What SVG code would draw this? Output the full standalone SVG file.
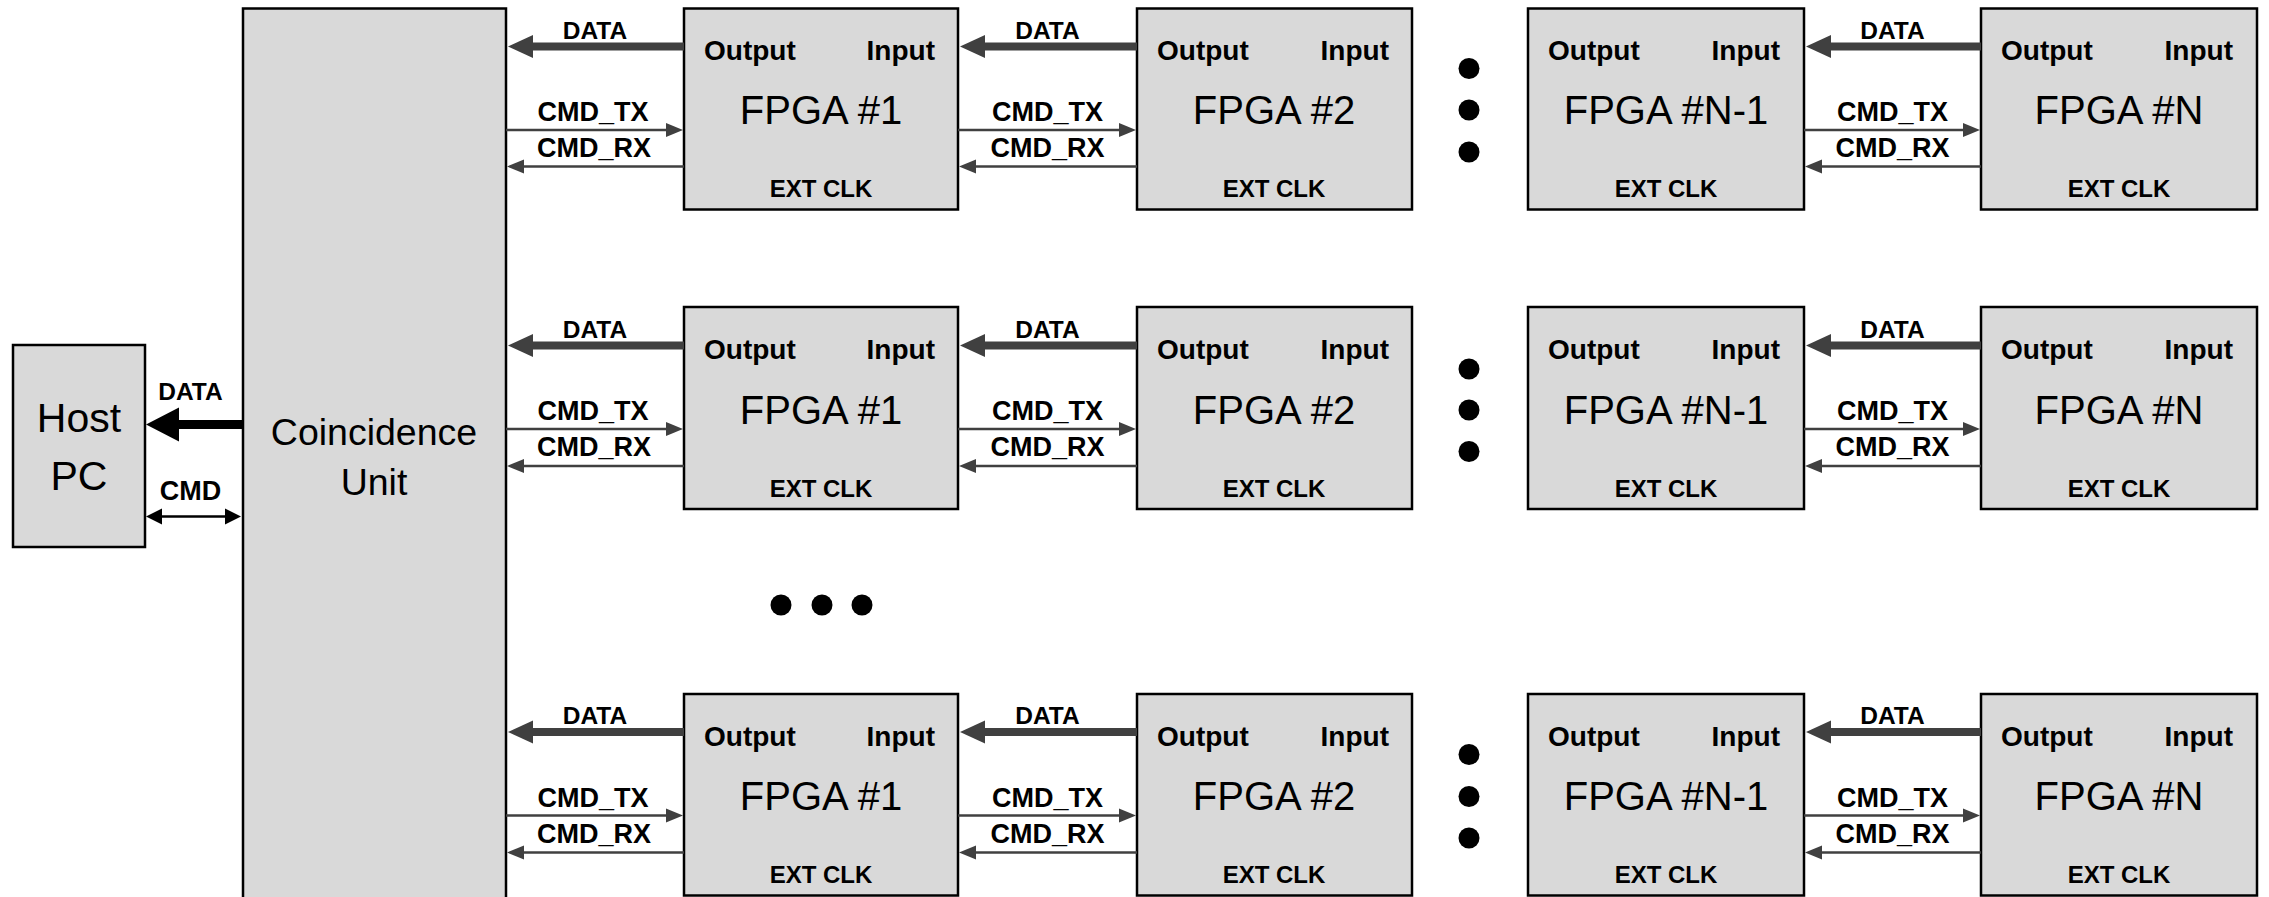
<svg xmlns="http://www.w3.org/2000/svg" width="2269" height="897" viewBox="0 0 2269 897">
  <style>
    .box { fill: #D9D9D9; stroke: #000; stroke-width: 2.5; }
    .t { font-family: "Liberation Sans", Arial, sans-serif; fill: #000; }
    .big { font-size: 40px; text-anchor: middle; }
    .hp { font-size: 41px; text-anchor: middle; }
    .cu { font-size: 37.5px; text-anchor: middle; }
    .io { font-size: 28px; font-weight: bold; }
    .clk { font-size: 24px; font-weight: bold; text-anchor: middle; }
    .dl { font-size: 24.5px; font-weight: bold; text-anchor: middle; }
    .cl { font-size: 27px; font-weight: bold; text-anchor: middle; }
    .data { stroke: #404040; stroke-width: 8; fill: none; marker-end: url(#hData); }
    .cmd { stroke: #404040; stroke-width: 2.7; fill: none; marker-end: url(#hCmd); }
    .dot { fill: #000; }
  </style>
  <defs>
    <marker id="hData" markerUnits="userSpaceOnUse" markerWidth="26" markerHeight="24" refX="1" refY="12" orient="auto" overflow="visible">
      <path d="M0,0.5 L25,12 L0,23.5 z" fill="#404040"/>
    </marker>
    <marker id="hCmd" markerUnits="userSpaceOnUse" markerWidth="18" markerHeight="14" refX="1" refY="7" orient="auto" overflow="visible">
      <path d="M0,0 L17,7 L0,14 z" fill="#404040"/>
    </marker>
    <marker id="hHost" markerUnits="userSpaceOnUse" markerWidth="34" markerHeight="34" refX="1" refY="17" orient="auto" overflow="visible">
      <path d="M0,0 L33,17 L0,34 z" fill="#000"/>
    </marker>
    <marker id="hHostCmd" markerUnits="userSpaceOnUse" markerWidth="17" markerHeight="16" refX="1" refY="8" orient="auto-start-reverse" overflow="visible">
      <path d="M0,0 L16,8 L0,16 z" fill="#000"/>
    </marker>
  </defs>

  <!-- Nodes -->
  <g id="host-pc">
    <rect class="box" x="13" y="345" width="132" height="202"/>
    <text class="t hp" x="79" y="432">Host</text>
    <text class="t hp" x="79" y="490">PC</text>
  </g>
  <g id="coincidence-unit">
    <rect class="box" x="243" y="8.5" width="263" height="900"/>
    <text class="t cu" x="374" y="445">Coincidence</text>
    <text class="t cu" x="374" y="495">Unit</text>
  </g>

  <!-- Row 1 -->
  <g id="r1-fpga1">
    <rect class="box" x="684" y="8.5" width="274" height="201"/>
    <text class="t io" x="704" y="59.5">Output</text>
    <text class="t io" x="935" y="59.5" text-anchor="end">Input</text>
    <text class="t big" x="821" y="124">FPGA #1</text>
    <text class="t clk" x="821" y="197">EXT CLK</text>
  </g>
  <g id="r1-fpga2">
    <rect class="box" x="1137" y="8.5" width="275" height="201"/>
    <text class="t io" x="1157" y="59.5">Output</text>
    <text class="t io" x="1389" y="59.5" text-anchor="end">Input</text>
    <text class="t big" x="1274" y="124">FPGA #2</text>
    <text class="t clk" x="1274" y="197">EXT CLK</text>
  </g>
  <g id="r1-fpgaN-1">
    <rect class="box" x="1528" y="8.5" width="276" height="201"/>
    <text class="t io" x="1548" y="59.5">Output</text>
    <text class="t io" x="1780" y="59.5" text-anchor="end">Input</text>
    <text class="t big" x="1666" y="124">FPGA #N-1</text>
    <text class="t clk" x="1666" y="197">EXT CLK</text>
  </g>
  <g id="r1-fpgaN">
    <rect class="box" x="1981" y="8.5" width="276" height="201"/>
    <text class="t io" x="2001" y="59.5">Output</text>
    <text class="t io" x="2233" y="59.5" text-anchor="end">Input</text>
    <text class="t big" x="2119" y="124">FPGA #N</text>
    <text class="t clk" x="2119" y="197">EXT CLK</text>
  </g>

  <!-- Row 2 -->
  <g id="r2-fpga1">
    <rect class="box" x="684" y="307" width="274" height="202"/>
    <text class="t io" x="704" y="359">Output</text>
    <text class="t io" x="935" y="359" text-anchor="end">Input</text>
    <text class="t big" x="821" y="423.5">FPGA #1</text>
    <text class="t clk" x="821" y="496.5">EXT CLK</text>
  </g>
  <g id="r2-fpga2">
    <rect class="box" x="1137" y="307" width="275" height="202"/>
    <text class="t io" x="1157" y="359">Output</text>
    <text class="t io" x="1389" y="359" text-anchor="end">Input</text>
    <text class="t big" x="1274" y="423.5">FPGA #2</text>
    <text class="t clk" x="1274" y="496.5">EXT CLK</text>
  </g>
  <g id="r2-fpgaN-1">
    <rect class="box" x="1528" y="307" width="276" height="202"/>
    <text class="t io" x="1548" y="359">Output</text>
    <text class="t io" x="1780" y="359" text-anchor="end">Input</text>
    <text class="t big" x="1666" y="423.5">FPGA #N-1</text>
    <text class="t clk" x="1666" y="496.5">EXT CLK</text>
  </g>
  <g id="r2-fpgaN">
    <rect class="box" x="1981" y="307" width="276" height="202"/>
    <text class="t io" x="2001" y="359">Output</text>
    <text class="t io" x="2233" y="359" text-anchor="end">Input</text>
    <text class="t big" x="2119" y="423.5">FPGA #N</text>
    <text class="t clk" x="2119" y="496.5">EXT CLK</text>
  </g>

  <!-- Row 3 -->
  <g id="r3-fpga1">
    <rect class="box" x="684" y="694" width="274" height="201.5"/>
    <text class="t io" x="704" y="745.5">Output</text>
    <text class="t io" x="935" y="745.5" text-anchor="end">Input</text>
    <text class="t big" x="821" y="810">FPGA #1</text>
    <text class="t clk" x="821" y="883">EXT CLK</text>
  </g>
  <g id="r3-fpga2">
    <rect class="box" x="1137" y="694" width="275" height="201.5"/>
    <text class="t io" x="1157" y="745.5">Output</text>
    <text class="t io" x="1389" y="745.5" text-anchor="end">Input</text>
    <text class="t big" x="1274" y="810">FPGA #2</text>
    <text class="t clk" x="1274" y="883">EXT CLK</text>
  </g>
  <g id="r3-fpgaN-1">
    <rect class="box" x="1528" y="694" width="276" height="201.5"/>
    <text class="t io" x="1548" y="745.5">Output</text>
    <text class="t io" x="1780" y="745.5" text-anchor="end">Input</text>
    <text class="t big" x="1666" y="810">FPGA #N-1</text>
    <text class="t clk" x="1666" y="883">EXT CLK</text>
  </g>
  <g id="r3-fpgaN">
    <rect class="box" x="1981" y="694" width="276" height="201.5"/>
    <text class="t io" x="2001" y="745.5">Output</text>
    <text class="t io" x="2233" y="745.5" text-anchor="end">Input</text>
    <text class="t big" x="2119" y="810">FPGA #N</text>
    <text class="t clk" x="2119" y="883">EXT CLK</text>
  </g>

  <!-- Ellipsis dots -->
  <g id="ellipsis">
    <circle class="dot" cx="1469" cy="68.5" r="10.5"/>
    <circle class="dot" cx="1469" cy="110" r="10.5"/>
    <circle class="dot" cx="1469" cy="152" r="10.5"/>
    <circle class="dot" cx="1469" cy="369" r="10.5"/>
    <circle class="dot" cx="1469" cy="410" r="10.5"/>
    <circle class="dot" cx="1469" cy="451.5" r="10.5"/>
    <circle class="dot" cx="1469" cy="754.5" r="10.5"/>
    <circle class="dot" cx="1469" cy="796.5" r="10.5"/>
    <circle class="dot" cx="1469" cy="838" r="10.5"/>
    <circle class="dot" cx="781" cy="605" r="10.5"/>
    <circle class="dot" cx="822" cy="605" r="10.5"/>
    <circle class="dot" cx="862" cy="605" r="10.5"/>
  </g>

  <!-- Connectors -->
  <g id="connectors">
    <!-- Host <-> Coincidence -->
    <line x1="243" y1="424.5" x2="178" y2="424.5" stroke="#000" stroke-width="9" marker-end="url(#hHost)"/>
    <line x1="161" y1="516.5" x2="226" y2="516.5" stroke="#000" stroke-width="2.7" marker-start="url(#hHostCmd)" marker-end="url(#hHostCmd)"/>

    <!-- Row 1 -->
    <line class="data" x1="684" y1="46.5" x2="532" y2="46.5"/>
    <line class="data" x1="1137" y1="46.5" x2="984" y2="46.5"/>
    <line class="data" x1="1981" y1="46.5" x2="1830" y2="46.5"/>
    <line class="cmd" x1="506" y1="130" x2="667" y2="130"/>
    <line class="cmd" x1="958" y1="130" x2="1120" y2="130"/>
    <line class="cmd" x1="1804" y1="130" x2="1964" y2="130"/>
    <line class="cmd" x1="684" y1="166.5" x2="523" y2="166.5"/>
    <line class="cmd" x1="1137" y1="166.5" x2="975" y2="166.5"/>
    <line class="cmd" x1="1981" y1="166.5" x2="1821" y2="166.5"/>

    <!-- Row 2 -->
    <line class="data" x1="684" y1="345.5" x2="532" y2="345.5"/>
    <line class="data" x1="1137" y1="345.5" x2="984" y2="345.5"/>
    <line class="data" x1="1981" y1="345.5" x2="1830" y2="345.5"/>
    <line class="cmd" x1="506" y1="429" x2="667" y2="429"/>
    <line class="cmd" x1="958" y1="429" x2="1120" y2="429"/>
    <line class="cmd" x1="1804" y1="429" x2="1964" y2="429"/>
    <line class="cmd" x1="684" y1="466" x2="523" y2="466"/>
    <line class="cmd" x1="1137" y1="466" x2="975" y2="466"/>
    <line class="cmd" x1="1981" y1="466" x2="1821" y2="466"/>

    <!-- Row 3 -->
    <line class="data" x1="684" y1="732" x2="532" y2="732"/>
    <line class="data" x1="1137" y1="732" x2="984" y2="732"/>
    <line class="data" x1="1981" y1="732" x2="1830" y2="732"/>
    <line class="cmd" x1="506" y1="815.5" x2="667" y2="815.5"/>
    <line class="cmd" x1="958" y1="815.5" x2="1120" y2="815.5"/>
    <line class="cmd" x1="1804" y1="815.5" x2="1964" y2="815.5"/>
    <line class="cmd" x1="684" y1="852.5" x2="523" y2="852.5"/>
    <line class="cmd" x1="1137" y1="852.5" x2="975" y2="852.5"/>
    <line class="cmd" x1="1981" y1="852.5" x2="1821" y2="852.5"/>

    <!-- Labels -->
    <text class="t dl" x="190.5" y="400">DATA</text>
    <text class="t cl" x="190.5" y="500">CMD</text>

    <text class="t dl" x="595" y="38.5">DATA</text>
    <text class="t dl" x="1047.5" y="38.5">DATA</text>
    <text class="t dl" x="1892.5" y="38.5">DATA</text>
    <text class="t cl" x="593" y="121">CMD_TX</text>
    <text class="t cl" x="1047.5" y="121">CMD_TX</text>
    <text class="t cl" x="1892.5" y="121">CMD_TX</text>
    <text class="t cl" x="594" y="157">CMD_RX</text>
    <text class="t cl" x="1047.5" y="157">CMD_RX</text>
    <text class="t cl" x="1892.5" y="157">CMD_RX</text>

    <text class="t dl" x="595" y="337.5">DATA</text>
    <text class="t dl" x="1047.5" y="337.5">DATA</text>
    <text class="t dl" x="1892.5" y="337.5">DATA</text>
    <text class="t cl" x="593" y="420">CMD_TX</text>
    <text class="t cl" x="1047.5" y="420">CMD_TX</text>
    <text class="t cl" x="1892.5" y="420">CMD_TX</text>
    <text class="t cl" x="594" y="456">CMD_RX</text>
    <text class="t cl" x="1047.5" y="456">CMD_RX</text>
    <text class="t cl" x="1892.5" y="456">CMD_RX</text>

    <text class="t dl" x="595" y="724">DATA</text>
    <text class="t dl" x="1047.5" y="724">DATA</text>
    <text class="t dl" x="1892.5" y="724">DATA</text>
    <text class="t cl" x="593" y="806.5">CMD_TX</text>
    <text class="t cl" x="1047.5" y="806.5">CMD_TX</text>
    <text class="t cl" x="1892.5" y="806.5">CMD_TX</text>
    <text class="t cl" x="594" y="842.5">CMD_RX</text>
    <text class="t cl" x="1047.5" y="842.5">CMD_RX</text>
    <text class="t cl" x="1892.5" y="842.5">CMD_RX</text>
  </g>
</svg>
